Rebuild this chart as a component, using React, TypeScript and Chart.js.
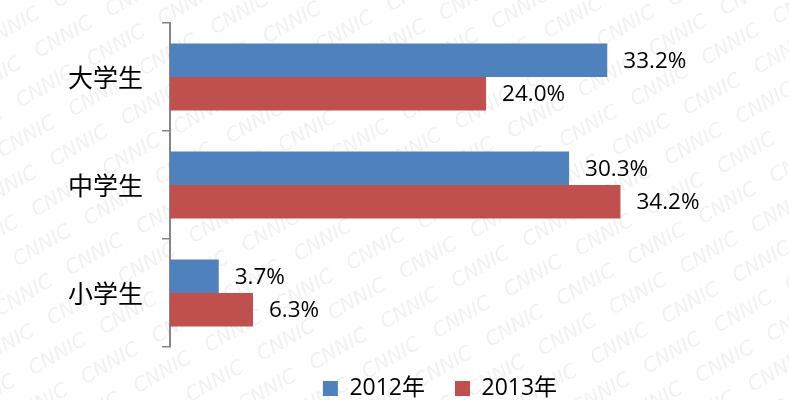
import React, { useEffect, useRef } from "react";
import { Chart, registerables } from "chart.js";

Chart.register(...registerables);

const categories = ["大学生", "中学生", "小学生"];
const seriesNames = ["2012年", "2013年"];
const values2012 = [33.2, 30.3, 3.7];
const values2013 = [24.0, 34.2, 6.3];
const colors = ["#4F81BD", "#C0504D"];

const watermarkPlugin = {
  id: "watermark",
  beforeDraw(chart: any) {
    const ctx = chart.ctx;
    const w = chart.width;
    const h = chart.height;
    ctx.save();
    ctx.fillStyle = "#ffffff";
    ctx.fillRect(0, 0, w, h);
    ctx.translate(w / 2, h / 2);
    ctx.rotate((-30 * Math.PI) / 180);
    ctx.font = "italic 20px 'DejaVu Sans'";
    ctx.fillStyle = "rgba(0,0,0,0.06)";
    ctx.textAlign = "center";
    ctx.textBaseline = "middle";
    for (let j = -14; j <= 14; j++) {
      for (let i = -10; i <= 10; i++) {
        const x = i * 82 + (j % 2 === 0 ? 0 : 41);
        const y = j * 34;
        ctx.fillText("CNNIC", x, y);
      }
    }
    ctx.restore();
  },
};

const valueLabelPlugin = {
  id: "valueLabels",
  afterDatasetsDraw(chart: any) {
    const ctx = chart.ctx;
    ctx.save();
    ctx.font = "22.5px 'Open Sans'";
    ctx.fillStyle = "#000000";
    ctx.textAlign = "left";
    ctx.textBaseline = "middle";
    chart.data.datasets.forEach((ds: any, di: number) => {
      const meta = chart.getDatasetMeta(di);
      meta.data.forEach((el: any, i: number) => {
        const v = ds.data[i] as number;
        ctx.fillText(v.toFixed(1) + "%", el.x + 16, el.y + 1);
      });
    });
    ctx.restore();
  },
};

export default function App() {
  const ref = useRef<HTMLCanvasElement | null>(null);
  useEffect(() => {
    document.body.style.margin = "0";
    if (!ref.current) return;
    const chart = new Chart(ref.current, {
      type: "bar",
      data: {
        labels: categories,
        datasets: [
          {
            label: seriesNames[0],
            data: values2012,
            backgroundColor: colors[0],
            borderWidth: 0,
            barPercentage: 1,
            categoryPercentage: 0.62,
          },
          {
            label: seriesNames[1],
            data: values2013,
            backgroundColor: colors[1],
            borderWidth: 0,
            barPercentage: 1,
            categoryPercentage: 0.62,
          },
        ],
      },
      options: {
        indexAxis: "y",
        animation: false,
        responsive: false,
        devicePixelRatio: 1,
        layout: { padding: { top: 23, right: 79, bottom: -10, left: 0 } },
        scales: {
          x: {
            type: "linear",
            min: 0,
            max: 41,
            display: false,
          },
          y: {
            type: "category",
            afterFit: (s: any) => {
              s.width = 170;
              s.paddingTop = 0;
              s.paddingBottom = 0;
            },
            grid: {
              display: true,
              drawOnChartArea: false,
              drawTicks: true,
              tickLength: 8,
              offset: true,
              color: "#868686",
              lineWidth: 1.5,
            },
            border: { display: true, color: "#868686", width: 2 },
            ticks: {
              padding: 19,
              color: "#000000",
              font: { family: "'Noto Sans CJK SC'", size: 25 },
            },
          },
        },
        plugins: {
          legend: {
            display: true,
            position: "bottom",
            fullSize: false,
            labels: {
              boxWidth: 15,
              boxHeight: 15,
              padding: 30,
              color: "#000000",
              font: { family: "'Open Sans', 'Noto Sans CJK SC'", size: 23 },
            },
          },
          tooltip: { enabled: false },
        },
      },
      plugins: [watermarkPlugin, valueLabelPlugin],
    } as any);
    return () => chart.destroy();
  }, []);
  return (
    <div style={{ position: "absolute", left: 0, top: 0, width: 789, height: 400 }}>
      <canvas ref={ref} width={789} height={400} />
    </div>
  );
}
